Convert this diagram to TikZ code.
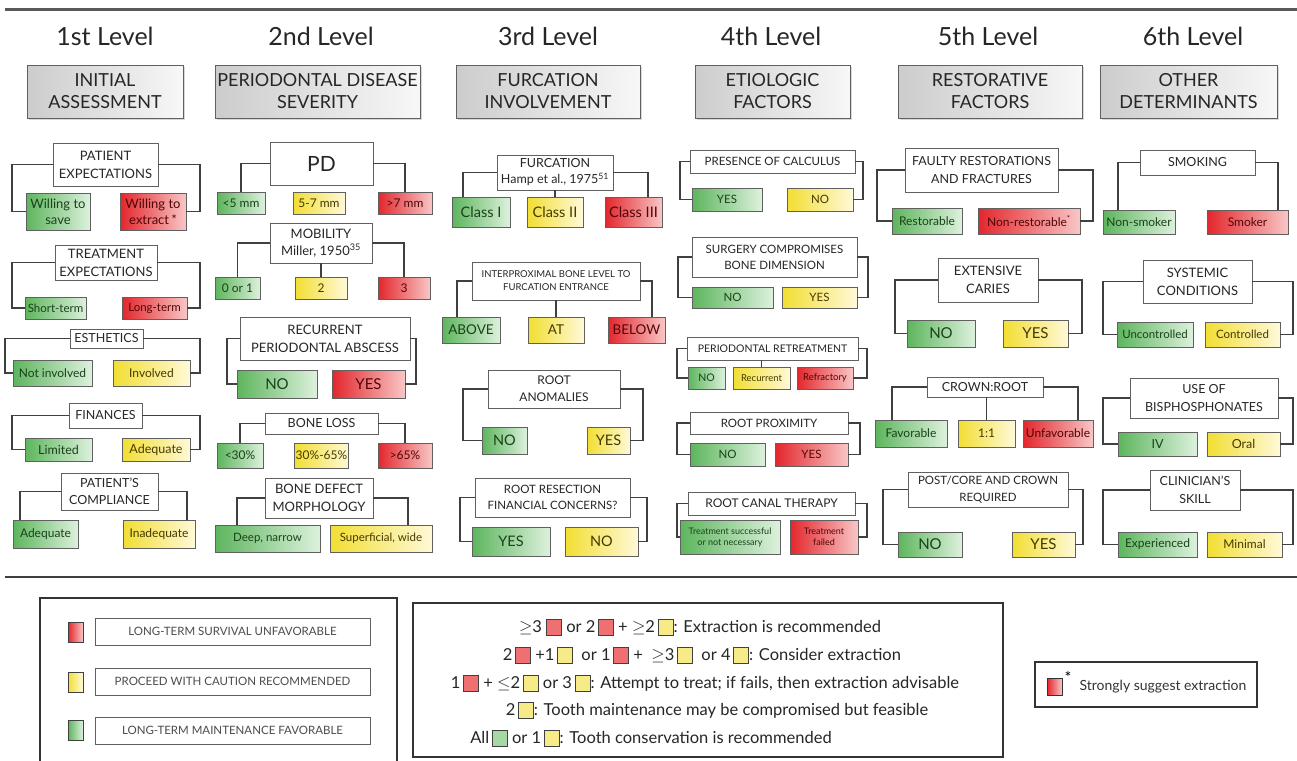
\documentclass[tikz,border=0pt]{standalone}
\usepackage{fontspec}
\setmainfont{Lato}
\usetikzlibrary{shadows}
\definecolor{gL}{HTML}{5DB55D}
\definecolor{gR}{HTML}{DDF1DD}
\definecolor{rL}{HTML}{E3262C}
\definecolor{rR}{HTML}{F9C6C6}
\definecolor{yL}{HTML}{F2DE32}
\definecolor{yR}{HTML}{FFF9D8}
\definecolor{gT}{HTML}{1A421A}
\definecolor{rT}{HTML}{500606}
\definecolor{yT}{HTML}{443A00}
\definecolor{ln}{HTML}{404040}
\definecolor{bd}{HTML}{606060}
\definecolor{tx}{HTML}{262626}
\definecolor{rM}{HTML}{EE7070}
\definecolor{yM}{HTML}{F7EB88}
\definecolor{gM}{HTML}{A5D8A5}
\newcommand{\fs}[2]{\fontsize{#1}{#2}\selectfont}
\newcommand{\bx}[7]{\node[#1, minimum width={(#4-#2)*1pt}, minimum height={(#5-#3)*1pt}] (#6) at ({(#2+#4)/2},{(#3+#5)/2}) {#7};}
\newcommand{\sqbox}[1]{{\setlength{\fboxrule}{0.9pt}\setlength{\fboxsep}{0pt}\raisebox{-2pt}{\fcolorbox{black!75}{#1}{\rule{0pt}{15pt}\rule{14pt}{0pt}}}}}
\newcommand{\sqR}{\sqbox{rM}}
\newcommand{\sqY}{\sqbox{yM}}
\newcommand{\sqG}{\sqbox{gM}}
\tikzset{
 base/.style={rectangle, inner sep=1pt, outer sep=0pt, align=center, line width=0.8pt},
 hdr/.style={base, draw=bd, left color=black!20, right color=black!3, text=tx, font={\fs{18}{22}},
   drop shadow={shadow xshift=1.5pt, shadow yshift=-1.5pt, opacity=0.3}},
 qb/.style={base, draw=bd, fill=white, text=tx},
 gb/.style={base, draw=bd, left color=gL, right color=gR, text=gT},
 rb/.style={base, draw=bd, left color=rL, right color=rR, text=rT},
 yb/.style={base, draw=bd, left color=yL, right color=yR, text=yT},
 cn/.style={draw=ln, line width=1.3pt},
 ttl/.style={text=black!85, font={\fs{25}{30}}},
 frame/.style={base, draw=black!80, line width=1.5pt},
 leg/.style={qb, font={\fs{11.5}{13}}, text=black!70},
 legline/.style={font={\fs{16.5}{19}}, text=black!85},
}
\begin{document}
\begin{tikzpicture}[x=1pt,y=-1pt]
\useasboundingbox (0,0) rectangle (1297,760);
\clip (0,0) rectangle (1297,760);
\fill[white] (0,0) rectangle (1297,760);
\draw[line width=3pt, draw=black!65] (5,10) -- (1297,10);
\draw[line width=2.5pt, draw=black!75] (5,577) -- (1297,577);
% titles
\node[ttl] (t1) at (105,36) {1st Level};
\node[ttl] (t2) at (321,36) {2nd Level};
\node[ttl] (t3) at (548,36) {3rd Level};
\node[ttl] (t4) at (771,36) {4th Level};
\node[ttl] (t5) at (988,36) {5th Level};
\node[ttl] (t6) at (1193,36) {6th Level};
% headers
\bx{hdr}{27}{65}{183}{118}{h1}{INITIAL\\ASSESSMENT}
\bx{hdr}{215}{65}{420}{118}{h2}{PERIODONTAL DISEASE\\SEVERITY}
\bx{hdr}{456}{65}{640}{118}{h3}{FURCATION\\INVOLVEMENT}
\bx{hdr}{695}{65}{850}{118}{h4}{ETIOLOGIC\\FACTORS}
\bx{hdr}{898}{65}{1082}{118}{h5}{RESTORATIVE\\FACTORS}
\bx{hdr}{1100}{65}{1277}{118}{h6}{OTHER\\DETERMINANTS}
% column 1
\bx{qb,font={\fs{13}{18}}}{53}{143}{158}{186}{pe}{PATIENT\\EXPECTATIONS}
\bx{gb,font={\fs{13}{16}}}{26}{193}{90}{230}{ws}{Willing to\\save}
\bx{rb,font={\fs{13}{16}}}{120}{193}{186}{230}{we}{Willing to\\extract\,*}
\draw[cn] (pe.west) -- ++(-41,0) |- (ws.west);
\draw[cn] (pe.east) -- ++(42,0) |- (we.east);
\bx{qb,font={\fs{13}{18}}}{55}{245}{157}{280}{te}{TREATMENT\\EXPECTATIONS}
\bx{gb,font={\fs{11.5}{13}}}{25}{297}{86}{319}{st}{Short-term}
\bx{rb,font={\fs{11.5}{13}}}{122}{297}{187}{319}{lt}{Long-term}
\draw[cn] (te.west) -- ++(-43,0) |- (st.west);
\draw[cn] (te.east) -- ++(43,0) |- (lt.east);
\bx{qb,font={\fs{12.5}{15}}}{70}{329}{143}{348}{es}{ESTHETICS}
\bx{gb,font={\fs{12}{14}}}{13}{360}{92}{386}{ni}{Not involved}
\bx{yb,font={\fs{12}{14}}}{113}{360}{190}{386}{inv}{Involved}
\draw[cn] (es.west) -- ++(-65,0) |- (ni.west);
\draw[cn] (es.east) -- ++(57,0) |- (inv.east);
\bx{qb,font={\fs{12.5}{15}}}{69}{403}{142}{428}{fi}{FINANCES}
\bx{gb,font={\fs{12.5}{15}}}{25}{438}{92}{461}{li}{Limited}
\bx{yb,font={\fs{12.5}{15}}}{122}{438}{190}{461}{ad1}{Adequate}
\draw[cn] (fi.west) -- ++(-57,0) |- (li.west);
\draw[cn] (fi.east) -- ++(58,0) |- (ad1.east);
\bx{qb,font={\fs{12.5}{17}}}{61}{473}{158}{510}{pc}{PATIENT'S\\COMPLIANCE}
\bx{gb,font={\fs{12}{14}}}{13}{520}{78}{548}{ad2}{Adequate}
\bx{yb,font={\fs{12}{14}}}{123}{520}{195}{548}{ina}{Inadequate}
\draw[cn] (pc.west) -| ([xshift=7pt]ad2.north west);
\draw[cn] (pc.east) -| ([xshift=-8pt]ina.north east);
% column 2
\bx{qb,font={\fs{21}{24}}}{270}{142}{373}{185}{pd}{PD}
\bx{gb,font={\fs{12}{14}}}{217}{192}{265}{214}{c5}{<5 mm}
\bx{yb,font={\fs{12}{14}}}{293}{192}{345}{214}{c57}{5-7 mm}
\bx{rb,font={\fs{12}{14}}}{378}{192}{432}{214}{c7}{>7 mm}
\draw[cn] (pd.west) -| (c5.north);
\draw[cn] (pd.east) -| (c7.north);
\bx{qb,font={\fs{13}{17}}}{270}{223}{372}{263}{mo}{MOBILITY\\Miller, 1950\textsuperscript{35}}
\bx{gb,font={\fs{12}{14}}}{215}{277}{260}{299}{m0}{0 or 1}
\bx{yb,font={\fs{12}{14}}}{295}{277}{347}{299}{m2}{2}
\bx{rb,font={\fs{12}{14}}}{378}{277}{430}{299}{m3}{3}
\draw[cn] (mo.west) -| (m0.north);
\draw[cn] (mo.south) -- (m2.north);
\draw[cn] (mo.east) -| (m3.north);
\bx{qb,font={\fs{13}{18}}}{240}{317}{410}{360}{rpa}{RECURRENT\\PERIODONTAL ABSCESS}
\bx{gb,font={\fs{15}{17}}}{237}{370}{317}{398}{rn}{NO}
\bx{rb,font={\fs{15}{17}}}{332}{370}{405}{398}{ry}{YES}
\draw[cn] (rpa.west) -- ++(-13,0) |- (rn.west);
\draw[cn] (rpa.east) -- ++(6,0) |- (ry.east);
\bx{qb,font={\fs{12.5}{15}}}{265}{413}{378}{434}{bl}{BONE LOSS}
\bx{gb,font={\fs{12}{14}}}{217}{443}{263}{468}{b30}{<30\%}
\bx{yb,font={\fs{12}{14}}}{295}{443}{348}{468}{b3065}{30\%-65\%}
\bx{rb,font={\fs{12}{14}}}{378}{443}{432}{468}{b65}{>65\%}
\draw[cn] (bl.west) -| (b30.north);
\draw[cn] (bl.east) -| (b65.north);
\bx{qb,font={\fs{13}{18}}}{265}{478}{373}{518}{bdm}{BONE DEFECT\\MORPHOLOGY}
\bx{gb,font={\fs{11.5}{13}}}{215}{525}{320}{552}{dn}{Deep, narrow}
\bx{yb,font={\fs{11.5}{13}}}{330}{525}{432}{552}{sw}{Superficial, wide}
\draw[cn] (bdm.west) -| ([xshift=22pt]dn.north west);
\draw[cn] (bdm.east) -| ([xshift=-24pt]sw.north east);
% column 3
\bx{qb,font={\fs{12.5}{16}}}{497}{155}{613}{190}{fu}{FURCATION\\Hamp et al., 1975\textsuperscript{51}}
\bx{gb,font={\fs{14.5}{17}}}{452}{197}{510}{227}{ci}{Class I}
\bx{yb,font={\fs{14.5}{17}}}{527}{197}{583}{227}{cii}{Class II}
\bx{rb,font={\fs{14.5}{17}}}{605}{197}{662}{227}{ciii}{Class III}
\draw[cn] (fu.west) -| ([xshift=11pt]ci.north west);
\draw[cn] (fu.south) -- (cii.north);
\draw[cn] (fu.east) -| ([xshift=-14pt]ciii.north east);
\bx{qb,font={\fs{9.5}{13}}}{472}{262}{640}{300}{ib}{INTERPROXIMAL BONE LEVEL TO\\FURCATION ENTRANCE}
\bx{gb,font={\fs{13.5}{16}}}{442}{317}{500}{343}{ab}{ABOVE}
\bx{yb,font={\fs{13.5}{16}}}{528}{317}{584}{343}{atn}{AT}
\bx{rb,font={\fs{13.5}{16}}}{608}{317}{665}{343}{be}{BELOW}
\draw[cn] (ib.west) -| ([xshift=15pt]ab.north west);
\draw[cn] (ib.south) -- (atn.north);
\draw[cn] (ib.east) -| ([xshift=-13pt]be.north east);
\bx{qb,font={\fs{12}{17}}}{488}{370}{620}{408}{ra}{ROOT\\ANOMALIES}
\bx{gb,font={\fs{14.5}{17}}}{482}{427}{527}{454}{rano}{NO}
\bx{yb,font={\fs{14.5}{17}}}{587}{427}{630}{454}{rayes}{YES}
\draw[cn] (ra.west) -- ++(-25,0) |- (rano.west);
\draw[cn] (ra.east) -- ++(23,0) |- (rayes.east);
\bx{qb,font={\fs{11.5}{16}}}{475}{478}{630}{517}{rr}{ROOT RESECTION\\FINANCIAL CONCERNS?}
\bx{gb,font={\fs{14.5}{17}}}{472}{527}{550}{556}{rry}{YES}
\bx{yb,font={\fs{14.5}{17}}}{565}{527}{638}{556}{rrn}{NO}
\draw[cn] (rr.west) -- ++(-15,0) |- (rry.west);
\draw[cn] (rr.east) -- ++(17,0) |- (rrn.east);
% column 4
\bx{qb,font={\fs{11.5}{14}}}{690}{150}{855}{173}{pc4}{PRESENCE OF CALCULUS}
\bx{gb,font={\fs{11.5}{13}}}{692}{188}{762}{211}{cy}{YES}
\bx{yb,font={\fs{11.5}{13}}}{787}{188}{853}{211}{cno}{NO}
\draw[cn] (pc4.west) -- ++(-10,0) |- (cy.west);
\draw[cn] (pc4.east) -- ++(8,0) |- (cno.east);
\bx{qb,font={\fs{11.5}{16}}}{692}{237}{857}{277}{sc}{SURGERY COMPROMISES\\BONE DIMENSION}
\bx{gb,font={\fs{11.5}{13}}}{692}{287}{773}{308}{sn}{NO}
\bx{yb,font={\fs{11.5}{13}}}{782}{287}{857}{308}{sy}{YES}
\draw[cn] (sc.west) -- ++(-14,0) |- (sn.west);
\draw[cn] (sc.east) -- ++(11,0) |- (sy.east);
\bx{qb,font={\fs{10.5}{13}}}{687}{337}{858}{360}{pr}{PERIODONTAL RETREATMENT}
\bx{gb,font={\fs{10.5}{12}}}{688}{367}{725}{389}{prn}{NO}
\bx{yb,font={\fs{9.5}{11}}}{733}{367}{790}{389}{prr}{Recurrent}
\bx{rb,font={\fs{9.5}{11}}}{797}{367}{853}{389}{prf}{Refractory}
\draw[cn] (pr.west) -- ++(-10,0) |- (prn.west);
\draw[cn] (prr.north |- pr.south) -- (prr.north);
\draw[cn] (pr.east) -- ++(9,0) |- (prf.east);
\bx{qb,font={\fs{11.5}{14}}}{690}{412}{848}{434}{rp}{ROOT PROXIMITY}
\bx{gb,font={\fs{11.5}{13}}}{690}{443}{765}{466}{rpn}{NO}
\bx{rb,font={\fs{11.5}{13}}}{775}{443}{848}{466}{rpy}{YES}
\draw[cn] (rp.west) -- ++(-13,0) |- (rpn.west);
\draw[cn] (rp.east) -- ++(12,0) |- (rpy.east);
\bx{qb,font={\fs{12}{14}}}{688}{492}{855}{515}{rc}{ROOT CANAL THERAPY}
\bx{gb,font={\fs{9}{11}}}{680}{520}{780}{554}{rcs}{Treatment successful\\or not necessary}
\bx{rb,font={\fs{9}{11}}}{790}{520}{858}{554}{rcf}{Treatment\\failed}
\draw[cn] (rc.west) -- ++(-11,0) |- (rcs.west);
\draw[cn] (rc.east) -- ++(12,0) |- (rcf.east);
% column 5
\bx{qb,font={\fs{12.5}{18}}}{905}{148}{1058}{192}{fr}{FAULTY RESTORATIONS\\AND FRACTURES}
\bx{gb,font={\fs{12}{14}}}{892}{208}{962}{234}{rs}{Restorable}
\bx{rb,font={\fs{12}{14}}}{978}{208}{1080}{234}{nr}{Non-restorable\textsuperscript{*}}
\draw[cn] (fr.west) -- ++(-28,0) |- (rs.west);
\draw[cn] (fr.east) -- ++(35,0) |- (nr.east);
\bx{qb,font={\fs{13}{18}}}{938}{258}{1038}{302}{ec}{EXTENSIVE\\CARIES}
\bx{gb,font={\fs{15}{17}}}{907}{320}{975}{347}{en}{NO}
\bx{yb,font={\fs{15}{17}}}{1003}{320}{1068}{347}{ey}{YES}
\draw[cn] (ec.west) -- ++(-43,0) |- (en.west);
\draw[cn] (ec.east) -- ++(44,0) |- (ey.east);
\bx{qb,font={\fs{12.5}{15}}}{927}{377}{1043}{397}{cr}{CROWN:ROOT}
\bx{gb,font={\fs{12}{14}}}{875}{420}{947}{447}{cf}{Favorable}
\bx{yb,font={\fs{12}{14}}}{958}{420}{1015}{447}{c11}{1:1}
\bx{rb,font={\fs{12}{14}}}{1023}{420}{1093}{447}{cu}{Unfavorable}
\draw[cn] (cr.west) -| ([xshift=17pt]cf.north west);
\draw[cn] (c11.north |- cr.south) -- (c11.north);
\draw[cn] (cr.east) -| ([xshift=-15pt]cu.north east);
\bx{qb,font={\fs{11.5}{17}}}{908}{472}{1068}{507}{pcc}{POST/CORE AND CROWN\\REQUIRED}
\bx{gb,font={\fs{15}{17}}}{898}{532}{962}{557}{pn}{NO}
\bx{yb,font={\fs{15}{17}}}{1012}{532}{1075}{557}{py}{YES}
\draw[cn] (pcc.west) -- ++(-25,0) |- (pn.west);
\draw[cn] (pcc.east) -- ++(15,0) |- (py.east);
% column 6
\bx{qb,font={\fs{12.5}{15}}}{1140}{150}{1255}{175}{sm}{SMOKING}
\bx{gb,font={\fs{12}{14}}}{1103}{210}{1175}{234}{ns}{Non-smoker}
\bx{rb,font={\fs{12}{14}}}{1207}{210}{1288}{234}{sk}{Smoker}
\draw[cn] (sm.west) -| ([xshift=15pt]ns.north west);
\draw[cn] (sm.east) -| ([xshift=-10pt]sk.north east);
\bx{qb,font={\fs{13}{18}}}{1143}{260}{1252}{303}{syc}{SYSTEMIC\\CONDITIONS}
\bx{gb,font={\fs{11.5}{13}}}{1117}{322}{1193}{347}{unc}{Uncontrolled}
\bx{yb,font={\fs{11.5}{13}}}{1205}{322}{1280}{347}{con}{Controlled}
\draw[cn] (syc.west) -- ++(-40,0) |- (unc.west);
\draw[cn] (syc.east) -- ++(41,0) |- (con.east);
\bx{qb,font={\fs{12.5}{18}}}{1130}{378}{1278}{418}{ub}{USE OF\\BISPHOSPHONATES}
\bx{gb,font={\fs{12.5}{15}}}{1118}{432}{1197}{456}{iv}{IV}
\bx{yb,font={\fs{12.5}{15}}}{1207}{432}{1280}{456}{ora}{Oral}
\draw[cn] (ub.west) -- ++(-27,0) |- (iv.west);
\draw[cn] (ub.east) -- ++(15,0) |- (ora.east);
\bx{qb,font={\fs{12.5}{18}}}{1150}{470}{1240}{510}{cs}{CLINICIAN'S\\SKILL}
\bx{gb,font={\fs{12}{14}}}{1118}{532}{1197}{557}{ex}{Experienced}
\bx{yb,font={\fs{12}{14}}}{1207}{532}{1282}{557}{mi}{Minimal}
\draw[cn] (cs.west) -- ++(-47,0) |- (ex.west);
\draw[cn] (cs.east) -- ++(53,0) |- (mi.east);
% legend left
\bx{frame}{40}{598}{397}{800}{legL}{}
\bx{base,draw=black!75,left color=rL,right color=rR}{68}{622}{83}{642}{lr}{}
\bx{leg}{95}{618}{370}{645}{lrt}{LONG-TERM SURVIVAL UNFAVORABLE}
\bx{base,draw=black!75,left color=yL,right color=yR}{68}{672}{83}{692}{ly}{}
\bx{leg}{95}{668}{370}{695}{lyt}{PROCEED WITH CAUTION RECOMMENDED}
\bx{base,draw=black!75,left color=gL,right color=gR}{68}{720}{83}{740}{lg}{}
\bx{leg}{95}{717}{370}{744}{lgt}{LONG-TERM MAINTENANCE FAVORABLE}
% legend middle
\bx{frame}{413}{603}{1003}{757}{legM}{}
\node[legline] (l1) at (700,627) {$\geq$3 \sqR{} or 2\,\sqR{} + $\geq$2\,\sqY: Extraction is recommended};
\node[legline] (l2) at (702,655) {2\,\sqR{} +1\,\sqY{}\ \ or 1\,\sqR{} + \ $\geq$3\,\sqY{}\ \ or 4\,\sqY: Consider extraction};
\node[legline] (l3) at (705,683) {1\,\sqR{} + $\leq$2\,\sqY{} or 3\,\sqY: Attempt to treat; if fails, then extraction advisable};
\node[legline] (l4) at (717,710) {2\,\sqY: Tooth maintenance may be compromised but feasible};
\node[legline] (l5) at (651,738) {All\,\sqG{} or 1\,\sqY: Tooth conservation is recommended};
% legend right
\bx{frame}{1035}{662}{1257}{707}{legR}{}
\bx{base,draw=black!80,left color=rL,right color=rR}{1047}{678}{1062}{695}{lsq}{}
\node[font={\fs{16}{16}}] (ast) at (1068,677) {*};
\node[anchor=west,font={\fs{14}{16}},text=black!80] (sse) at (1076,687) {Strongly suggest extraction};
\end{tikzpicture}
\end{document}
